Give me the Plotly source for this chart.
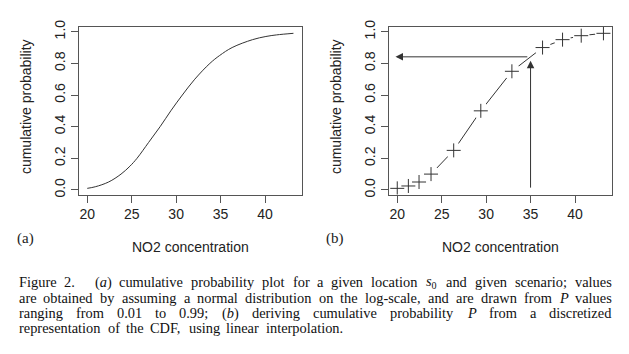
import re
import plotly.graph_objects as go
import numpy as np

# ---- data ----
# panel (a): smooth CDF (NO2 concentration, cumulative probability)
curve_x = [20.0, 20.9, 22.4, 23.8, 24.8, 25.6, 26.9, 28.2, 29.4, 30.7, 32.1, 33.8, 34.9, 36.3, 38.6, 40.1, 41.3, 43.2]
curve_p = [0.01, 0.02, 0.05, 0.10, 0.15, 0.20, 0.30, 0.40, 0.50, 0.60, 0.70, 0.80, 0.85, 0.90, 0.95, 0.97, 0.98, 0.99]

# panel (b): discretized CDF
disc_x = [20.0, 21.25, 22.45, 23.8, 26.35, 29.4, 32.9, 36.35, 38.6, 40.7, 43.2]
disc_p = [0.01, 0.025, 0.05, 0.10, 0.25, 0.50, 0.75, 0.90, 0.95, 0.975, 0.99]

query_x = 35.0          # concentration looked up
arrow_end_x = 19.8      # where the horizontal arrow ends
arrow_start_p = 0.005   # foot of the vertical arrow

x_ticks = [20, 25, 30, 35, 40]
y_ticks = [0.0, 0.2, 0.4, 0.6, 0.8, 1.0]
y_ticktext = ["0.0", "0.2", "0.4", "0.6", "0.8", "1.0"]

caption_lines = [
    "Figure 2. (<i>a</i>) cumulative probability plot for a given location <i>s</i><sub>0</sub> and given scenario; values",
    "are obtained by assuming a normal distribution on the log-scale, and are drawn from <i>P</i> values",
    "ranging from 0.01 to 0.99; (<i>b</i>) deriving cumulative probability <i>P</i> from a discretized",
    "representation of the CDF, using linear interpolation.",
]

query_p = float(np.interp(query_x, disc_x, disc_p))

W, H = 629, 354
def px(v): return v / W
def py(v): return 1 - v / H

LINE = "#333333"
BOX = "#555555"
SANS = "Liberation Sans, Arial, sans-serif"
SERIF = "Liberation Serif, Times New Roman, serif"

fig = go.Figure()

fig.add_trace(go.Scatter(x=curve_x, y=curve_p, mode="lines", line=dict(color=LINE, width=1, shape="spline"),
                         xaxis="x", yaxis="y", showlegend=False, hoverinfo="skip"))

# type="b" style: line with gaps around the points
fig.add_trace(go.Scatter(x=disc_x, y=disc_p, mode="lines", line=dict(color=LINE, width=1),
                         xaxis="x2", yaxis="y2", showlegend=False, hoverinfo="skip"))
fig.add_trace(go.Scatter(x=disc_x, y=disc_p, mode="markers",
                         marker=dict(symbol="circle", size=17, color="white", line=dict(width=0)),
                         xaxis="x2", yaxis="y2", showlegend=False, hoverinfo="skip"))
fig.add_trace(go.Scatter(x=disc_x, y=disc_p, mode="markers",
                         marker=dict(symbol="cross-thin", size=10, color=LINE, line=dict(width=1, color=LINE)),
                         xaxis="x2", yaxis="y2", showlegend=False, hoverinfo="skip"))

axis_common = dict(showline=True, mirror=True, linecolor=BOX, linewidth=1, ticks="outside", ticklen=7,
                   tickcolor=BOX, tickwidth=1, showgrid=False, zeroline=False,
                   tickfont=dict(family=SANS, size=14, color="#222"))
xr = [19.07, 44.13]
yr = [-0.0292, 1.0292]
ydom = [py(193), py(20.7)]

fig.update_layout(
    width=W, height=H, margin=dict(l=0, r=0, t=0, b=0),
    paper_bgcolor="white", plot_bgcolor="white",
    xaxis=dict(domain=[px(79), px(301.7)], range=xr, tickvals=x_ticks, anchor="y", **axis_common),
    yaxis=dict(domain=ydom, range=yr, tickvals=y_ticks, ticktext=y_ticktext, tickangle=-90, anchor="x", **axis_common),
    xaxis2=dict(domain=[px(389), px(611.7)], range=xr, tickvals=x_ticks, anchor="y2", **axis_common),
    yaxis2=dict(domain=ydom, range=yr, tickvals=y_ticks, ticktext=y_ticktext, tickangle=-90, anchor="x2", **axis_common),
)

ann = []
# arrows
ann.append(dict(x=arrow_end_x, y=query_p, ax=query_x - 0.2, ay=query_p, xref="x2", yref="y2", axref="x2", ayref="y2",
                showarrow=True, arrowhead=2, arrowsize=1.5, arrowwidth=1, arrowcolor=LINE, text=""))
ann.append(dict(x=query_x, y=query_p - 0.025, ax=query_x, ay=arrow_start_p, xref="x2", yref="y2", axref="x2", ayref="y2",
                showarrow=True, arrowhead=2, arrowsize=1.5, arrowwidth=1, arrowcolor=LINE, text=""))

# axis titles and panel labels
for off in (0, 310):
    ann.append(dict(x=px(off + 190.5), y=py(246.5), xref="paper", yref="paper", text="NO2 concentration",
                    showarrow=False, xanchor="center", yanchor="middle", font=dict(family=SANS, size=14, color="#222")))
    ann.append(dict(x=px(off + 26), y=py(103), xref="paper", yref="paper", text="cumulative probability",
                    textangle=-90, showarrow=False, xanchor="center", yanchor="middle",
                    font=dict(family=SANS, size=14, color="#222")))
ann.append(dict(x=px(25), y=py(238), xref="paper", yref="paper", text="(a)", showarrow=False,
                xanchor="center", yanchor="middle", font=dict(family=SERIF, size=15, color="#222")))
ann.append(dict(x=px(335), y=py(238), xref="paper", yref="paper", text="(b)", showarrow=False,
                xanchor="center", yanchor="middle", font=dict(family=SERIF, size=15, color="#222")))

# ---- caption: word-by-word justified layout (Times metrics, 1/1000 em) ----
TW = {c: 500 for c in "0123456789bdghknopquvxy"}
TW.update({"a": 444, "c": 444, "e": 444, "z": 444, "f": 333, "r": 333, "i": 278, "j": 278, "l": 278, "t": 278,
           "m": 778, "s": 389, "w": 722, "C": 667, "D": 722, "F": 556, "P": 611, ".": 250, ",": 250, ";": 278,
           "(": 333, ")": 333, "-": 333})
CAP_SIZE = 14.4
CAP = dict(family=SERIF, size=CAP_SIZE, color="#111")

def word_w(html):
    plain = re.sub("<[^>]+>", "", html)
    return sum(TW.get(c, 500) for c in plain) / 1000 * CAP_SIZE * 1.01

left_x = 16.7
rights = [610, 610, 610, 342]
baselines = [288.3, 304.3, 320.0, 335.7]
extra_gap = {0: {1: 12.0}}   # wider gap after "Figure 2."

for li, (text, right, base) in enumerate(zip(caption_lines, rights, baselines)):
    words = text.split(" ")
    widths = [word_w(w) for w in words]
    extras = extra_gap.get(li, {})
    free = right - left_x - sum(widths) - sum(extras.values())
    gap = free / (len(words) - 1)
    xpos = left_x
    for wi, (w, ww) in enumerate(zip(words, widths)):
        ann.append(dict(x=px(xpos), y=py(base - 4.9), xref="paper", yref="paper", text=w,
                        showarrow=False, xanchor="left", yanchor="middle", font=CAP))
        xpos += ww + gap + extras.get(wi, 0.0)

fig.update_layout(annotations=ann)
fig.write_html("out.html")
